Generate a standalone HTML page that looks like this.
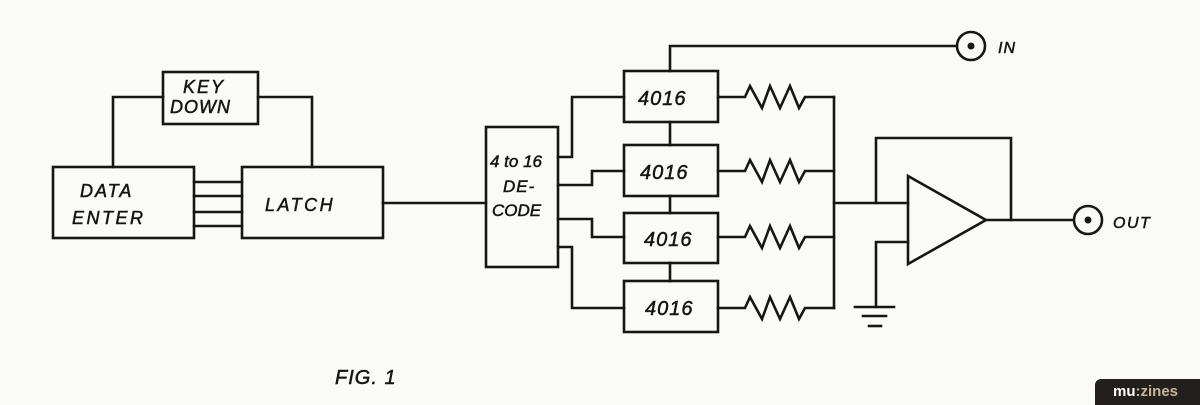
<!DOCTYPE html>
<html><head><meta charset="utf-8"><style>
html,body{margin:0;padding:0;background:#fafaf9;}
body{width:1200px;height:405px;overflow:hidden;position:relative;}
svg{position:absolute;left:0;top:0;}
text{font-family:"Liberation Sans",sans-serif;fill:#151515;font-style:italic;stroke:#151515;stroke-width:0.5;}
.badge{position:absolute;left:1095px;top:379px;width:105px;height:26px;background:#231f1d;border-top-left-radius:6px;font-family:"Liberation Sans",sans-serif;font-weight:bold;font-size:15px;line-height:26px;color:#fff;padding-left:18px;box-sizing:border-box;}
.badge span{color:#c8b89a;}
</style></head><body>
<svg width="1200" height="405" viewBox="0 0 1200 405">
<g fill="none" stroke="#161616" stroke-width="2.6" stroke-linejoin="miter" stroke-linecap="square">
<!-- key down -->
<rect x="163" y="72" width="95" height="52"/>
<polyline points="113,167 113,97 163,97"/>
<polyline points="258,97 312,97 312,167"/>
<!-- data enter / latch -->
<rect x="53" y="167" width="141" height="71"/>
<rect x="242" y="167" width="141" height="71"/>
<line x1="194" y1="182" x2="242" y2="182"/>
<line x1="194" y1="196" x2="242" y2="196"/>
<line x1="194" y1="212" x2="242" y2="212"/>
<line x1="194" y1="226" x2="242" y2="226"/>
<line x1="383" y1="203" x2="486" y2="203"/>
<!-- decode -->
<rect x="486" y="127" width="72" height="140"/>
<polyline points="558,157 572,157 572,97 624,97"/>
<polyline points="558,185 592,185 592,171 624,171"/>
<polyline points="558,219 592,219 592,237 624,237"/>
<polyline points="558,247 572,247 572,308 624,308"/>
<!-- 4016 boxes -->
<rect x="624" y="71" width="94" height="51"/>
<rect x="624" y="145" width="94" height="51"/>
<rect x="624" y="213" width="94" height="50"/>
<rect x="624" y="281" width="94" height="51"/>
<line x1="670" y1="122" x2="670" y2="145"/>
<line x1="670" y1="196" x2="670" y2="213"/>
<line x1="670" y1="263" x2="670" y2="281"/>
<polyline points="670,71 670,46 956,46"/>
<!-- resistors -->
<polyline points="718,97 745,97 750,86 762,108 770,86 780,108 790,86 799,108 805,97 834,97"/>
<polyline points="718,171 745,171 750,160 762,182 770,160 780,182 790,160 799,182 805,171 834,171"/>
<polyline points="718,237 745,237 750,226 762,248 770,226 780,248 790,226 799,248 805,237 834,237"/>
<polyline points="718,308 745,308 750,297 762,319 770,297 780,319 790,297 799,319 805,308 834,308"/>
<line x1="834" y1="97" x2="834" y2="308"/>
<!-- opamp -->
<line x1="834" y1="203" x2="908" y2="203"/>
<polyline points="876,203 876,138 1011,138 1011,220"/>
<polygon points="908,176 986,220 908,264"/>
<line x1="986" y1="220" x2="1073" y2="220"/>
<polyline points="908,242 876,242 876,307"/>
<line x1="855" y1="307" x2="894" y2="307"/>
<line x1="863" y1="316" x2="886" y2="316"/>
<line x1="869" y1="326" x2="881" y2="326"/>
<!-- connectors -->
<circle cx="971" cy="46" r="14"/>
<circle cx="1088" cy="220" r="14"/>
</g>
<circle cx="971" cy="46" r="3.5" fill="#161616"/>
<circle cx="1088" cy="220" r="3.5" fill="#161616"/>
<!-- labels -->
<text x="183" y="93" font-size="18" letter-spacing="2">KEY</text>
<text x="170" y="113" font-size="18" letter-spacing="1">DOWN</text>
<text x="80" y="197" font-size="18" letter-spacing="2">DATA</text>
<text x="72" y="224" font-size="18" letter-spacing="2.5">ENTER</text>
<text x="265" y="211" font-size="18" letter-spacing="2.5">LATCH</text>
<text x="490" y="167" font-size="17">4 to 16</text>
<text x="503" y="192" font-size="17" letter-spacing="1">DE-</text>
<text x="492" y="216" font-size="17">CODE</text>
<text x="638" y="105" font-size="20" letter-spacing="1">4016</text>
<text x="640" y="179" font-size="20" letter-spacing="1">4016</text>
<text x="644" y="246" font-size="20" letter-spacing="1">4016</text>
<text x="645" y="315" font-size="20" letter-spacing="1">4016</text>
<text x="998" y="53" font-size="16" letter-spacing="1">IN</text>
<text x="1113" y="228" font-size="16" letter-spacing="1.5">OUT</text>
<text x="335" y="384" font-size="20" letter-spacing="1">FIG. 1</text>
</svg>
<div class="badge">mu<span>:zines</span></div>
</body></html>
